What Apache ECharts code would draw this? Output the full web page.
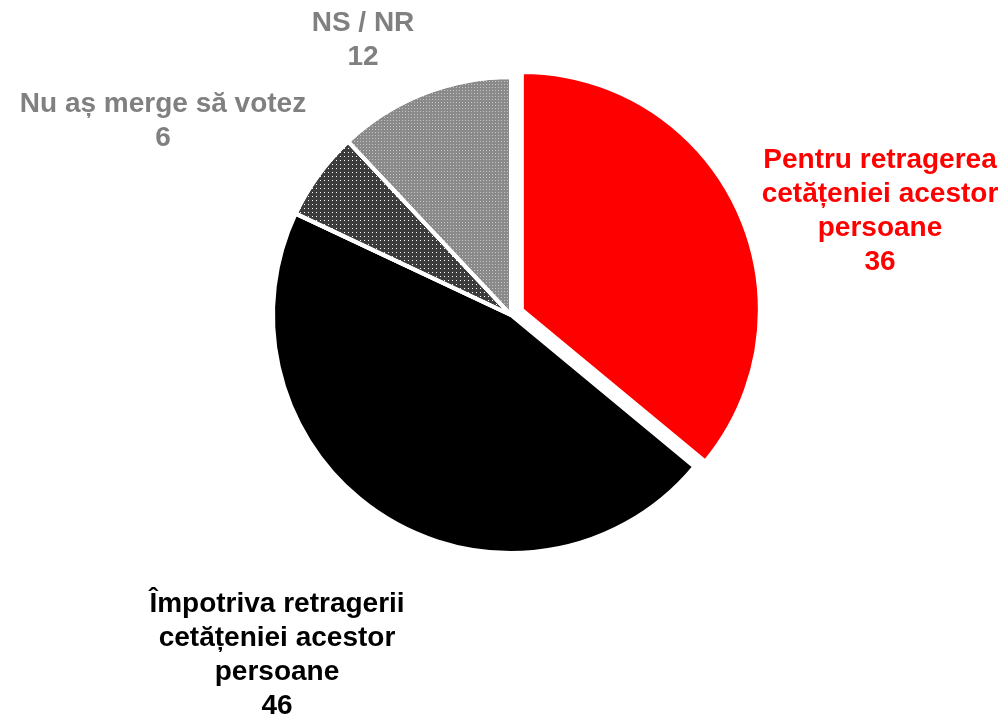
<!DOCTYPE html>
<html lang="ro">
<head>
    <meta charset="UTF-8">
    <title>Pie</title>
    <style>
        body { margin: 0; padding: 0; background: #fff; }
        #chart { width: 1006px; height: 717px; }
    </style>
    <script src="https://cdn.jsdelivr.net/npm/echarts@6/dist/echarts.min.js"></script>
</head>
<body>
    <div id="chart"></div>
    <script>
        // date
        var categories = [
            'Pentru retragerea\ncetățeniei acestor\npersoane',
            'Împotriva retragerii\ncetățeniei acestor\npersoane',
            'Nu aș merge să votez',
            'NS / NR'
        ];
        var values = [36, 46, 6, 12];

        // pozitii etichete (stil)
        var labelPos = [[880, 211], [277, 655], [163, 121], [363, 40]];
        var labelColors = ['#ff0000', '#000000', '#808080', '#808080'];

        var styles = [
            { color: '#ff0000' },
            { color: '#000000' },
            { color: '#3c3c3c', decal: { symbol: 'rect', symbolSize: 1, dashArrayX: [1, 3], dashArrayY: [1, 3], color: '#ffffff' } },
            { color: '#8a8a8a', decal: { symbol: 'rect', symbolSize: 1, dashArrayX: [1, 2], dashArrayY: [1, 2], color: '#c4c4c4' } }
        ];

        // etichetele ca text
        var labels = categories.map(function (c, i) {
            return {
                type: 'text',
                x: labelPos[i][0],
                y: labelPos[i][1],
                style: {
                    text: c + '\n' + values[i],
                    fill: labelColors[i],
                    fontFamily: 'Liberation Sans, Arial, sans-serif',
                    fontWeight: 'bold',
                    fontSize: 28,
                    lineHeight: 34,
                    align: 'center',
                    verticalAlign: 'middle'
                }
            };
        });

        var chart = echarts.init(document.getElementById('chart'));
        var option = {
            animation: false,
            graphic: labels,
            series: [{
                type: 'pie',
                center: [511, 315],
                radius: 238,
                startAngle: 90,
                clockwise: true,
                selectedMode: 'single',
                selectedOffset: 12,
                emphasis: { disabled: true },
                itemStyle: { borderColor: '#ffffff', borderWidth: 4 },
                labelLine: { show: false },
                label: { show: false },
                data: values.map(function (v, i) {
                    return {
                        name: categories[i],
                        value: v,
                        selected: i === 0,
                        itemStyle: styles[i],
                        select: { itemStyle: styles[i] }
                    };
                })
            }]
        };
        chart.setOption(option);
    </script>
</body>
</html>
